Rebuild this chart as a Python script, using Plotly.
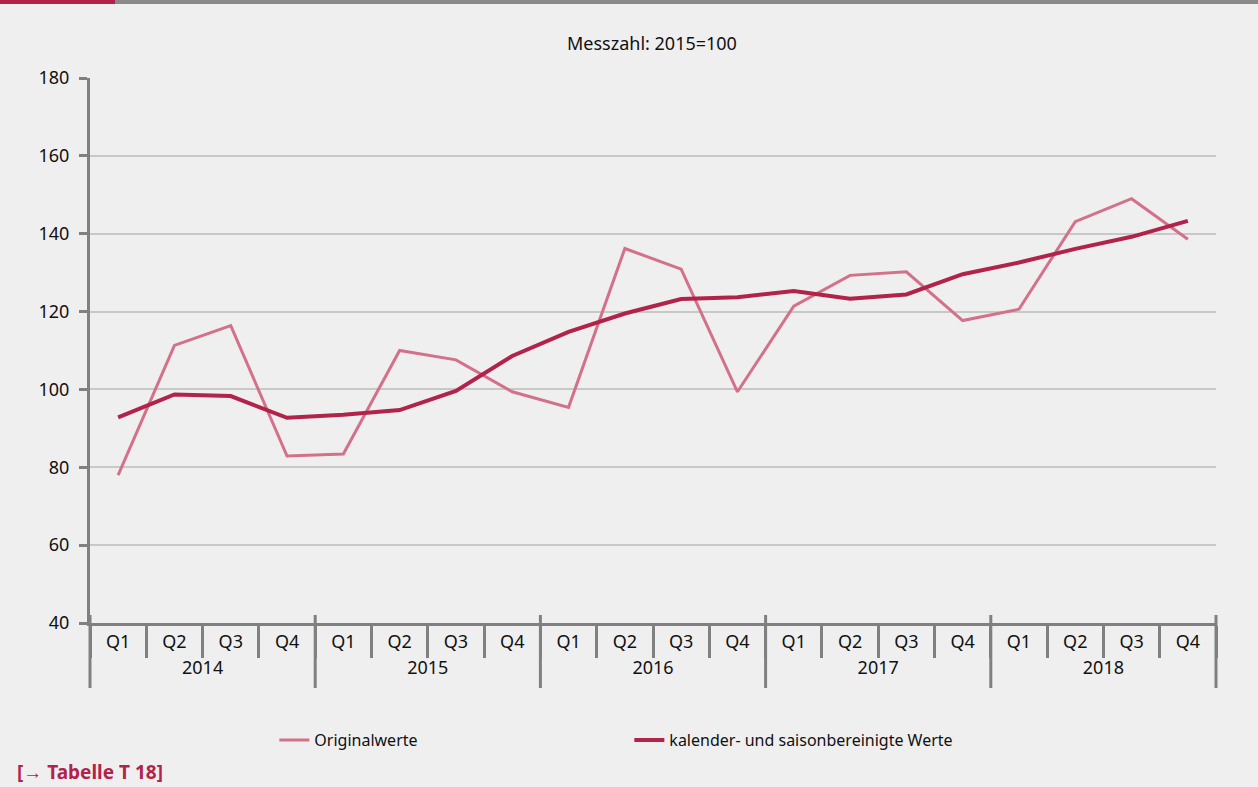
import plotly.graph_objects as go

years = ["2014"] * 4 + ["2015"] * 4 + ["2016"] * 4 + ["2017"] * 4 + ["2018"] * 4
quarters = ["Q1", "Q2", "Q3", "Q4"] * 5
original = [78.0, 111.3, 116.4, 82.9, 83.4, 110.0, 107.6, 99.4, 95.4, 136.2,
            130.9, 99.4, 121.4, 129.3, 130.2, 117.7, 120.6, 143.1, 149.0, 138.6]
adjusted = [92.8, 98.7, 98.3, 92.7, 93.5, 94.7, 99.6, 108.6, 114.8, 119.5,
            123.2, 123.7, 125.3, 123.3, 124.4, 129.6, 132.6, 136.1, 139.2, 143.3]
y_ticks = [40, 60, 80, 100, 120, 140, 160, 180]
year_labels = ["2014", "2015", "2016", "2017", "2018"]

FONT = "Noto Sans"
RED = "#b2234a"
PINK = "#d27189"
BG = "#efefef"
AXIS = "#808080"

W, H = 1258, 787
L, R, T, B = 90, 42, 78, 164
PW, PH = W - L - R, H - T - B


def px_x(x):
    return (x - L) / PW


def px_y(y):
    return (H - B - y) / PH


fig = go.Figure()
fig.add_trace(go.Scatter(x=[years, quarters], y=original, mode="lines",
                         name="Originalwerte", line=dict(color=PINK, width=3)))
fig.add_trace(go.Scatter(x=[years, quarters], y=adjusted, mode="lines",
                         name="kalender- und saisonbereinigte Werte",
                         line=dict(color=RED, width=4)))

fig.update_layout(
    width=W, height=H,
    paper_bgcolor=BG, plot_bgcolor=BG,
    margin=dict(l=L, r=R, t=T, b=B),
    font=dict(family=FONT, size=18, color="#111111"),
    showlegend=True,
    legend=dict(orientation="h", x=0.479, xanchor="center", y=px_y(723), yanchor="top",
                font=dict(family=FONT, size=16), entrywidth=310,
                entrywidthmode="pixels", bgcolor="rgba(0,0,0,0)"),
    xaxis=dict(type="multicategory", range=[-0.5, 19.5], showline=True, linecolor=AXIS,
               linewidth=3, ticks="outside", tickson="boundaries", ticklen=32, tickwidth=3,
               tickcolor=AXIS, showgrid=False, showdividers=False,
               tickfont=dict(family=FONT, size=18)),
    yaxis=dict(range=[40, 180], tickvals=y_ticks, showline=True, linecolor=AXIS,
               linewidth=3, ticks="outside", ticklen=8, tickwidth=3, tickcolor=AXIS,
               gridcolor="#c8c8c8", gridwidth=2, zeroline=False, ticklabelstandoff=6,
               tickfont=dict(family=FONT, size=18)),
)

fig.add_annotation(text="Messzahl: 2015=100", xref="paper", x=px_x(652), yref="paper",
                   y=px_y(43), yanchor="middle", showarrow=False, font=dict(size=18))
fig.add_annotation(text="<b>[→ Tabelle T 18]</b>", xref="paper", x=px_x(15), xanchor="left",
                   yref="paper", y=px_y(772), yanchor="middle", showarrow=False,
                   font=dict(size=19, color=RED))

# top decorative bar
fig.add_shape(type="rect", xref="paper", yref="paper", x0=px_x(0), x1=px_x(115),
              y0=px_y(0), y1=px_y(4), line=dict(width=0), fillcolor=RED)
fig.add_shape(type="rect", xref="paper", yref="paper", x0=px_x(115), x1=px_x(W),
              y0=px_y(0), y1=px_y(4), line=dict(width=0), fillcolor="#8a8a8a")

# year dividers (group boundaries) spanning both label rows
n_groups = len(year_labels)
for k in range(n_groups + 1):
    fig.add_shape(type="line", xref="paper", yref="paper", x0=k / n_groups, x1=k / n_groups,
                  y0=px_y(615), y1=px_y(688), line=dict(color=AXIS, width=3))

fig.write_html("out.html", config={"displayModeBar": False},
               post_script="document.body.style.margin='0';document.body.style.background='#efefef';")
